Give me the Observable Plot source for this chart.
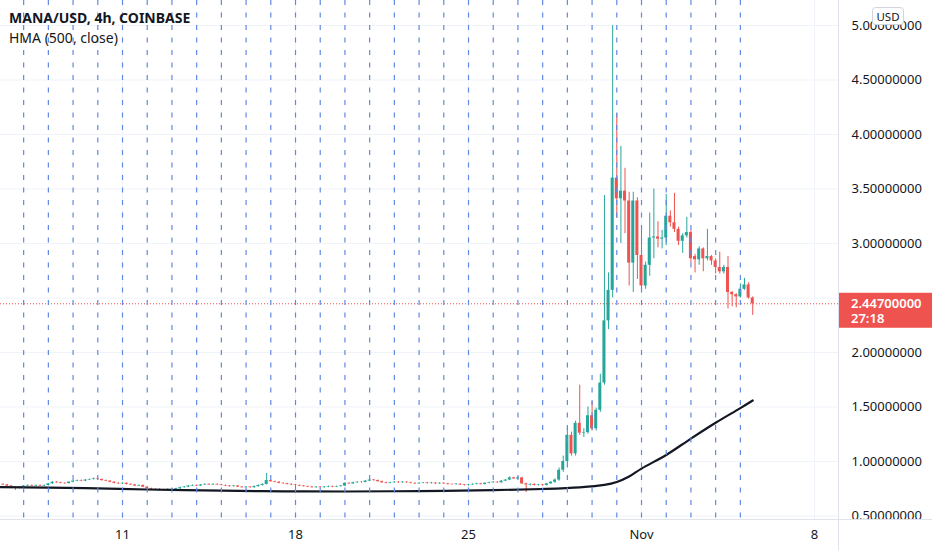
<!DOCTYPE html>
<html><head><meta charset="utf-8">
<script src="https://cdn.jsdelivr.net/npm/d3@7"></script>
<script src="https://cdn.jsdelivr.net/npm/@observablehq/plot@0.6"></script>
<style>
body{margin:0;background:#fff;}
#chart{position:relative;width:932px;height:550px;overflow:hidden;background:#fff;}
</style></head><body><div id="chart"></div>
<script>
// ---------- data ----------
const symbolTitle = "MANA/USD, 4h, COINBASE";
const indicatorTitle = "HMA (500, close)";
const firstCandle = "2021-10-06T00:00:00Z"; // 4h candles from here
const opens = [
0.800,0.790,0.785,0.775,0.765,0.755,0.765,0.775,0.780,0.775,0.780,0.775,0.780,0.795,0.810,0.805,0.800,0.797,0.810,0.820,
0.825,0.820,0.830,0.835,0.840,0.835,0.825,0.820,0.810,0.800,0.795,0.800,0.790,0.785,0.775,0.780,0.765,0.750,0.740,0.745,
0.735,0.740,0.745,0.740,0.750,0.760,0.765,0.775,0.780,0.775,0.785,0.790,0.785,0.790,0.785,0.780,0.775,0.770,0.775,0.765,
0.760,0.765,0.760,0.770,0.780,0.790,0.825,0.815,0.810,0.800,0.797,0.790,0.785,0.780,0.775,0.770,0.765,0.760,0.765,0.760,
0.765,0.770,0.765,0.770,0.775,0.800,0.795,0.805,0.810,0.808,0.820,0.830,0.825,0.815,0.805,0.800,0.805,0.810,0.805,0.810,
0.805,0.800,0.795,0.800,0.803,0.798,0.802,0.795,0.800,0.795,0.790,0.788,0.792,0.785,0.780,0.785,0.790,0.795,0.790,0.800,
0.805,0.810,0.805,0.820,0.830,0.850,0.840,0.850,0.795,0.785,0.790,0.780,0.785,0.780,0.795,0.810,0.830,0.920,1.000,1.240,
1.070,1.350,1.260,1.265,1.420,1.300,1.470,1.720,2.290,2.570,3.600,3.410,3.480,3.390,2.820,3.390,2.890,2.610,2.800,3.050,
3.060,3.040,3.050,3.250,3.190,3.130,3.020,3.070,3.100,2.880,2.850,2.950,2.860,2.880,2.840,2.780,2.740,2.780,2.550,2.530,
2.510,2.580,2.620,2.500];
const highs = [
0.805,0.795,0.790,0.780,0.770,0.770,0.780,0.785,0.785,0.785,0.785,0.785,0.800,0.815,0.815,0.810,0.805,0.815,0.825,0.830,
0.830,0.835,0.840,0.848,0.845,0.840,0.830,0.825,0.815,0.805,0.805,0.805,0.795,0.790,0.785,0.785,0.770,0.755,0.750,0.750,
0.745,0.750,0.750,0.755,0.765,0.770,0.780,0.785,0.785,0.790,0.795,0.795,0.795,0.795,0.790,0.785,0.780,0.780,0.780,0.770,
0.770,0.770,0.775,0.785,0.795,0.890,0.830,0.820,0.815,0.805,0.800,0.795,0.790,0.785,0.780,0.775,0.770,0.770,0.770,0.770,
0.775,0.775,0.775,0.780,0.805,0.805,0.810,0.815,0.815,0.825,0.838,0.835,0.830,0.820,0.810,0.810,0.815,0.815,0.815,0.815,
0.810,0.805,0.805,0.808,0.808,0.808,0.806,0.805,0.805,0.800,0.795,0.797,0.795,0.790,0.790,0.795,0.800,0.800,0.805,0.810,
0.815,0.815,0.825,0.835,0.860,0.855,0.858,0.855,0.800,0.795,0.795,0.790,0.790,0.800,0.815,0.840,0.940,1.050,1.310,1.270,
1.370,1.700,1.300,1.500,1.550,1.490,1.800,3.440,2.730,5.000,4.190,3.890,3.690,3.470,3.470,3.420,3.130,2.830,3.280,3.500,
3.200,3.120,3.450,3.300,3.460,3.150,3.090,3.240,3.120,2.900,2.970,2.960,3.130,2.890,2.860,2.920,2.800,2.880,2.560,2.540,
2.630,2.680,2.640,2.510];
const lows = [
0.785,0.780,0.770,0.760,0.735,0.750,0.760,0.770,0.770,0.770,0.770,0.770,0.775,0.790,0.800,0.795,0.790,0.795,0.805,0.815,
0.815,0.815,0.825,0.830,0.830,0.820,0.815,0.805,0.795,0.790,0.790,0.785,0.780,0.770,0.770,0.760,0.745,0.735,0.735,0.728,
0.730,0.735,0.735,0.735,0.745,0.755,0.760,0.770,0.770,0.770,0.780,0.780,0.780,0.780,0.775,0.770,0.765,0.765,0.760,0.755,
0.755,0.755,0.755,0.765,0.775,0.785,0.810,0.805,0.795,0.790,0.785,0.780,0.710,0.770,0.765,0.760,0.755,0.755,0.755,0.755,
0.760,0.760,0.760,0.765,0.770,0.790,0.790,0.800,0.800,0.805,0.815,0.820,0.810,0.800,0.795,0.795,0.800,0.800,0.800,0.800,
0.795,0.790,0.790,0.795,0.793,0.793,0.790,0.790,0.790,0.785,0.783,0.783,0.780,0.775,0.775,0.780,0.785,0.785,0.785,0.795,
0.800,0.800,0.800,0.815,0.825,0.835,0.835,0.790,0.715,0.775,0.775,0.775,0.772,0.775,0.790,0.800,0.820,0.900,0.980,1.050,
1.050,1.240,1.220,1.250,1.280,1.280,1.450,1.700,2.210,2.500,3.230,3.000,3.090,2.610,2.550,2.670,2.580,2.580,2.700,2.860,
2.960,2.950,2.980,3.150,3.100,2.980,2.910,3.050,2.820,2.730,2.800,2.740,2.840,2.800,2.720,2.720,2.720,2.400,2.420,2.410,
2.500,2.570,2.490,2.340];
const closes = [
0.790,0.785,0.775,0.765,0.755,0.765,0.775,0.780,0.775,0.780,0.775,0.780,0.795,0.810,0.805,0.800,0.797,0.810,0.820,0.825,
0.820,0.830,0.835,0.840,0.835,0.825,0.820,0.810,0.800,0.795,0.800,0.790,0.785,0.775,0.780,0.765,0.750,0.740,0.745,0.735,
0.740,0.745,0.740,0.750,0.760,0.765,0.775,0.780,0.775,0.785,0.790,0.785,0.790,0.785,0.780,0.775,0.770,0.775,0.765,0.760,
0.765,0.760,0.770,0.780,0.790,0.825,0.815,0.810,0.800,0.797,0.790,0.785,0.780,0.775,0.770,0.765,0.760,0.765,0.760,0.765,
0.770,0.765,0.770,0.775,0.800,0.795,0.805,0.810,0.808,0.820,0.830,0.825,0.815,0.805,0.800,0.805,0.810,0.805,0.810,0.805,
0.800,0.795,0.800,0.803,0.798,0.802,0.795,0.800,0.795,0.790,0.788,0.792,0.785,0.780,0.785,0.790,0.795,0.790,0.800,0.805,
0.810,0.805,0.820,0.830,0.850,0.840,0.850,0.795,0.785,0.790,0.780,0.785,0.780,0.795,0.810,0.830,0.920,1.000,1.240,1.070,
1.350,1.260,1.265,1.420,1.300,1.470,1.720,2.290,2.570,3.600,3.410,3.480,3.390,2.820,3.390,2.890,2.610,2.800,3.050,3.060,
3.040,3.050,3.250,3.190,3.130,3.020,3.070,3.100,2.860,2.850,2.950,2.860,2.880,2.840,2.780,2.740,2.780,2.550,2.530,2.510,
2.580,2.620,2.500,2.447];
const hmaDates = ["2021-10-06T00:00Z","2021-10-09T12:00Z","2021-10-12T00:00Z","2021-10-15T00:00Z","2021-10-17T12:00Z",
  "2021-10-20T00:00Z","2021-10-23T00:00Z","2021-10-26T00:00Z","2021-10-28T00:00Z","2021-10-29T12:00Z","2021-10-30T12:00Z",
  "2021-10-31T00:00Z","2021-10-31T12:00Z","2021-11-01T00:00Z","2021-11-02T00:00Z","2021-11-03T00:00Z","2021-11-04T00:00Z",
  "2021-11-05T00:00Z","2021-11-05T12:00Z"];
const hmaValues = [0.765,0.755,0.743,0.732,0.726,0.725,0.729,0.737,0.748,0.763,0.785,0.812,0.862,0.935,1.060,1.210,1.355,1.490,1.560];
const priceTicks = [0.5,1.0,1.5,2.0,2.5,3.0,3.5,4.0,4.5,5.0];
const dateTicks = ["2021-10-11","2021-10-18","2021-10-25","2021-11-01","2021-11-08"];
const dateTickLabels = ["11","18","25","Nov","8"];
const sessionStart = "2021-10-07", sessionEnd = "2021-11-06";
const lastPrice = 2.447;
const lastPriceLabel = "2.44700000";
const countdown = "27:18";
const currency = "USD";

// ---------- build ----------
const up = "#26a69a", down = "#ef5350";
const t0 = +new Date(firstCandle);
const candles = closes.map((c, i) => ({t: new Date(t0 + i * 4 * 3600e3), o: opens[i], h: highs[i], l: lows[i], c}));
const hma = hmaDates.map((d, i) => ({t: new Date(d), v: hmaValues[i]}));
const tickDates = dateTicks.map(d => new Date(d + "T00:00:00Z"));
const tickLabel = new Map(tickDates.map((d, i) => [+d, dateTickLabels[i]]));
const sessions = d3.utcDay.range(new Date(sessionStart + "T00:00:00Z"), new Date(sessionEnd + "T00:00:00Z"));
const half = 88 * 60e3;
const col = d => d.c >= d.o ? up : down;
const FONT = "'Noto Sans', sans-serif";

const plot = Plot.plot({
  width: 932, height: 550,
  marginLeft: 0, marginRight: 94, marginTop: 0, marginBottom: 31,
  style: {fontFamily: FONT, fontSize: "13px", color: "#131722", background: "#fff"},
  x: {type: "utc", domain: [new Date("2021-10-06T01:31:00Z"), new Date("2021-11-08T23:18:00Z")]},
  y: {domain: [0.468, 5.229]},
  color: {type: "identity"},
  marks: [
    Plot.ruleY(priceTicks, {stroke: "#f0f3fa", strokeWidth: 1}),
    Plot.ruleX(tickDates, {stroke: "#f0f3fa", strokeWidth: 1}),
    Plot.ruleY([lastPrice], {stroke: down, strokeWidth: 1, strokeDasharray: "1,2"}),
    Plot.ruleX(candles, {x: "t", y1: "l", y2: "h", stroke: col, strokeWidth: 1}),
    Plot.rect(candles, {x1: d => new Date(+d.t - half), x2: d => new Date(+d.t + half),
      y1: d => Math.min(d.o, d.c), y2: d => Math.max(d.o, d.c), fill: col}),
    Plot.line(hma, {x: "t", y: "v", stroke: "#131722", strokeWidth: 2.2, curve: "catmull-rom"}),
    Plot.ruleX(sessions, {stroke: "#6189e3", strokeWidth: 1.2, strokeDasharray: "5,7.5"}),
    Plot.axisY({anchor: "right", ticks: priceTicks, tickSize: 0, tickPadding: 13, tickFormat: d3.format(".8f"), label: null, fontSize: 13}),
    Plot.axisX({ticks: tickDates, tickSize: 0, tickPadding: 10, tickFormat: d => tickLabel.get(+d), label: null, fontSize: 13})
  ]
});

const svg = d3.select(plot);
const ys = plot.scale("y");
const py = ys.apply(lastPrice);
const addText = (x, y, txt, opts = {}) => svg.append("text")
  .attr("x", x).attr("y", y).attr("text-anchor", opts.anchor || "start")
  .attr("fill", opts.fill || "#131722").attr("font-size", opts.size || 13)
  .attr("font-weight", opts.weight || 400).attr("font-family", FONT).text(txt);
// pane separators
svg.append("line").attr("x1", 838.5).attr("x2", 838.5).attr("y1", 0).attr("y2", 550).attr("stroke", "#e0e3eb");
svg.append("line").attr("x1", 0).attr("x2", 932).attr("y1", 519.5).attr("y2", 519.5).attr("stroke", "#e0e3eb");
// last price label
svg.append("rect").attr("x", 839).attr("y", py - 10.5).attr("width", 93).attr("height", 35).attr("fill", down);
addText(851, py + 5, lastPriceLabel, {fill: "#fff", weight: 600});
addText(851, py + 20, countdown, {fill: "#fff", weight: 600});
// currency badge
svg.append("rect").attr("x", 872.5).attr("y", 7.5).attr("width", 31).attr("height", 17).attr("rx", 3)
  .attr("fill", "#fff").attr("stroke", "#d1d4dc");
addText(888, 20.5, currency, {anchor: "middle", size: 11.5});
// legend titles
addText(9, 23, symbolTitle, {size: 14, weight: 700});
addText(9, 43, indicatorTitle, {size: 14});

document.getElementById("chart").appendChild(plot);
</script></body></html>
